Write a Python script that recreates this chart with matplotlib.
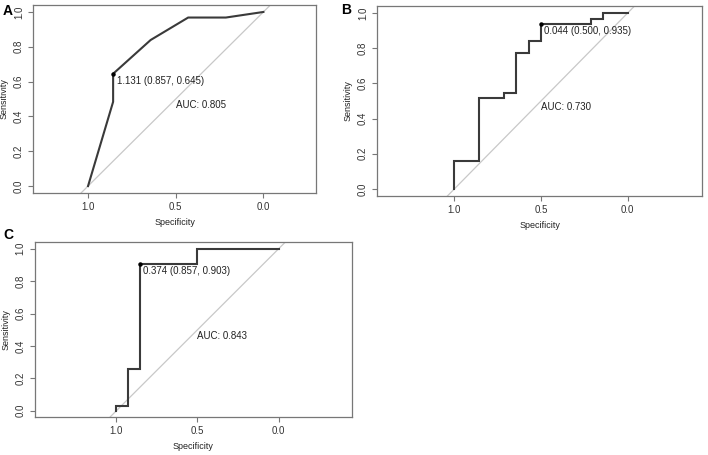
import matplotlib
matplotlib.use("Agg")
import matplotlib.pyplot as plt

plt.rcParams["font.family"] = ["Liberation Sans", "DejaVu Sans"]

# ROC curves (specificity, sensitivity)
spec_a = [1.0, 0.857, 0.857, 0.643, 0.429, 0.214, 0.0]
sens_a = [0.0, 0.484, 0.645, 0.839, 0.968, 0.968, 1.0]

spec_b = [1.0, 1.0, 0.857, 0.857, 0.714, 0.714, 0.643, 0.643, 0.571, 0.571,
          0.5, 0.5, 0.214, 0.214, 0.143, 0.143, 0.0]
sens_b = [0.0, 0.161, 0.161, 0.516, 0.516, 0.548, 0.548, 0.774, 0.774, 0.839,
          0.839, 0.935, 0.935, 0.968, 0.968, 1.0, 1.0]

spec_c = [1.0, 1.0, 0.929, 0.929, 0.857, 0.857, 0.5, 0.5, 0.0]
sens_c = [0.0, 0.032, 0.032, 0.258, 0.258, 0.903, 0.903, 1.0, 1.0]

thres_a = (0.857, 0.645, "1.131 (0.857, 0.645)")
thres_b = (0.500, 0.935, "0.044 (0.500, 0.935)")
thres_c = (0.857, 0.903, "0.374 (0.857, 0.903)")

auc_labels = ["AUC: 0.805", "AUC: 0.730", "AUC: 0.843"]
panel_names = ["A", "B", "C"]
ticks = [1.0, 0.5, 0.0]
yticks = [0.0, 0.2, 0.4, 0.6, 0.8, 1.0]

fig = plt.figure(figsize=(7.08, 4.55), dpi=100)

panels = [
    # rect, xlim, data
    ([0.0466, 0.5758, 0.3997, 0.4132], (1.314, -0.30), spec_a, sens_a, thres_a),
    ([0.5325, 0.5692, 0.4590, 0.4176], (1.446, -0.429), spec_b, sens_b, thres_b),
    ([0.0490, 0.0829, 0.4477, 0.3846], (1.503, -0.45), spec_c, sens_c, thres_c),
]

frame_col = "#777777"
for i, (rect, xlim, sp, se, thr) in enumerate(panels):
    ax = fig.add_axes(rect)
    ax.set_xlim(*xlim)
    ax.set_ylim(-0.04, 1.04)
    ax.plot([1.2, -0.2], [-0.2, 1.2], color="#c8c8c8", lw=0.9)
    ax.plot(sp, se, color="#3a3a3a", lw=1.5, solid_joinstyle="miter")
    ax.plot(thr[0], thr[1], "o", color="black", ms=2.2)
    ax.text(thr[0] - 0.02, thr[1] - 0.01, thr[2], fontsize=7, color="#222222",
            ha="left", va="top")
    ax.text(0.5, 0.495, auc_labels[i], fontsize=7, color="#222222",
            ha="left", va="top")
    ax.set_xticks(ticks)
    ax.set_xticklabels(["1.0", "0.5", "0.0"])
    ax.set_yticks(yticks)
    ax.set_yticklabels(["%.1f" % v for v in yticks], rotation=90, va="center")
    ax.tick_params(labelsize=7, colors=frame_col, labelcolor="#333333",
                   length=3.5, width=0.8, pad=3)
    for s in ax.spines.values():
        s.set_color(frame_col)
        s.set_linewidth(0.9)
    ax.set_xlabel("Specificity", fontsize=6.5, color="#222222", labelpad=4)
    ax.set_ylabel("Sensitivity", fontsize=6.5, color="#222222", labelpad=4)

fig.text(3 / 708, 1 - 11 / 455, "A", fontsize=10, fontweight="bold", va="center")
fig.text(341 / 708, 1 - 10 / 455, "B", fontsize=10, fontweight="bold", va="center")
fig.text(3 / 708, 1 - 235 / 455, "C", fontsize=10, fontweight="bold", va="center")

fig.savefig("out.png", dpi=100)
